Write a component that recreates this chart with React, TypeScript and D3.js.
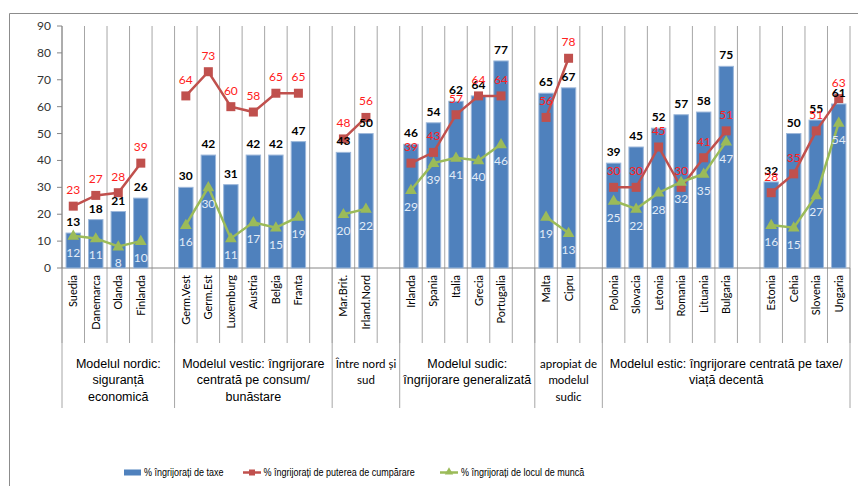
import * as d3 from 'd3';

// countries in chart order
const countries = [
  'Suedia', 'Danemarca', 'Olanda', 'Finlanda',
  'Germ.Vest', 'Germ.Est', 'Luxemburg', 'Austria', 'Belgia', 'Franta',
  'Mar.Brit.', 'Irland.Nord',
  'Irlanda', 'Spania', 'Italia', 'Grecia', 'Portugalia',
  'Malta', 'Cipru',
  'Polonia', 'Slovacia', 'Letonia', 'Romania', 'Lituania', 'Bulgaria',
  'Estonia', 'Cehia', 'Slovenia', 'Ungaria',
];

// % îngrijorați de taxe
const taxe = [13, 18, 21, 26, 30, 42, 31, 42, 42, 47, 43, 50, 46, 54, 62, 64, 77, 65, 67, 39, 45, 52, 57, 58, 75, 32, 50, 55, 61];
// % îngrijorați de puterea de cumpărare
const putere = [23, 27, 28, 39, 64, 73, 60, 58, 65, 65, 48, 56, 39, 43, 57, 64, 64, 56, 78, 30, 30, 45, 30, 41, 51, 28, 35, 51, 63];
// % îngrijorați de locul de muncă
const locMunca = [12, 11, 8, 10, 16, 30, 11, 17, 15, 19, 20, 22, 29, 39, 41, 40, 46, 19, 13, 25, 22, 28, 32, 35, 47, 16, 15, 27, 54];

// an empty slot follows each of these
const gapAfter = ['Finlanda', 'Franta', 'Irland.Nord', 'Portugalia', 'Cipru', 'Bulgaria'];

const groupStarts = ['Suedia', 'Germ.Vest', 'Mar.Brit.', 'Irlanda', 'Malta', 'Polonia'];
const groupLabels = [
  ['Modelul nordic:', 'siguranță', 'economică'],
  ['Modelul vestic: îngrijorare', 'centrată pe consum/', 'bunăstare'],
  ['Între nord și', 'sud'],
  ['Modelul sudic:', 'îngrijorare generalizată'],
  ['apropiat de', 'modelul', 'sudic'],
  ['Modelul estic: îngrijorare centrată pe taxe/', 'viață decentă'],
];
const narrowGroups = [2, 4];

const yTicks = [0, 10, 20, 30, 40, 50, 60, 70, 80, 90];

const legendLabels = [
  '% îngrijorați de taxe',
  '% îngrijorați de puterea de cumpărare',
  '% îngrijorați de locul de muncă',
];

const BLUE = '#4F81BD';
const RED = '#C0504D';
const GREEN = '#9BBB59';
const GRID = '#A6A6A6';
const calibri = "Lato, 'Open Sans', sans-serif";
const arial = "'Liberation Sans', Arial, sans-serif";

export default function App() {
  const width = 858;
  const height = 486;

  // build slot list (country index or null for empty slot)
  const slots: (number | null)[] = [];
  countries.forEach((c, i) => {
    slots.push(i);
    if (gapAfter.includes(c)) slots.push(null);
  });
  const slotKeys = slots.map((_, k) => String(k));

  const x = d3.scaleBand<string>().domain(slotKeys).range([62, 850]).padding(0);
  const y = d3.scaleLinear().domain([0, 90]).range([268, 26]);
  const bw = x.bandwidth();
  const barW = bw * 0.64;
  const cx = (k: number) => (x(String(k)) ?? 0) + bw / 2;

  const slotOf = (i: number) => slots.indexOf(i);

  const seriesBySlot = (vals: number[]) => slots.map((s) => (s === null ? null : vals[s]));
  const line = d3
    .line<number | null>()
    .defined((d) => d !== null)
    .x((_, k) => cx(k))
    .y((d) => y(d as number));

  const boundaries = d3.range(slots.length + 1).map((k) => 62 + k * bw);

  const groupStartSlots = groupStarts.map((c) => slotOf(countries.indexOf(c)));
  const groupEdges = [...groupStartSlots, slots.length].map((k) => 62 + k * bw);

  const tri = d3.symbol().type(d3.symbolTriangle).size(60)();
  const triSmall = d3.symbol().type(d3.symbolTriangle).size(30)();

  return (
    <svg
      width={width}
      height={height}
      style={{ position: 'absolute', left: 0, top: 0, background: '#fff' }}
    >
      {/* chart frame */}
      <path d={`M9.5,${height} V13.5 H${width}`} fill="none" stroke="#8C8C8C" strokeWidth={1} />

      {/* vertical gridlines */}
      {boundaries.map((bx, k) => (
        <line key={'g' + k} x1={bx} x2={bx} y1={26} y2={343} stroke={GRID} strokeWidth={1} />
      ))}
      {/* group separators */}
      {groupEdges.map((gx, k) => (
        <line key={'s' + k} x1={gx} x2={gx} y1={268} y2={408} stroke={GRID} strokeWidth={1} />
      ))}

      {/* y axis */}
      <line x1={62} x2={62} y1={26} y2={268} stroke="#868686" />
      {yTicks.map((t) => (
        <g key={t}>
          <line x1={57} x2={62} y1={y(t)} y2={y(t)} stroke="#868686" />
          <text
            x={51}
            y={y(t) + 4}
            textAnchor="end"
            fontFamily={calibri}
            fontSize={12}
            fill="#333"
          >
            {t}
          </text>
        </g>
      ))}
      <line x1={62} x2={850} y1={268} y2={268} stroke="#868686" />

      {/* bars */}
      {slots.map((s, k) =>
        s === null ? null : (
          <rect
            key={'b' + k}
            x={cx(k) - barW / 2}
            y={y(taxe[s])}
            width={barW}
            height={y(0) - y(taxe[s])}
            fill={BLUE}
            stroke="#9DB8DA"
            strokeWidth={1}
          />
        )
      )}

      {/* lines */}
      <path d={line(seriesBySlot(putere)) ?? ''} fill="none" stroke={RED} strokeWidth={2.5} />
      <path d={line(seriesBySlot(locMunca)) ?? ''} fill="none" stroke={GREEN} strokeWidth={2.5} />
      {slots.map((s, k) =>
        s === null ? null : (
          <g key={'m' + k}>
            <rect x={cx(k) - 4.5} y={y(putere[s]) - 4.5} width={9} height={9} fill={RED} />
            <path d={tri ?? ''} transform={`translate(${cx(k)},${y(locMunca[s]) + 0.5})`} fill={GREEN} />
          </g>
        )
      )}

      {/* data labels */}
      {slots.map((s, k) =>
        s === null ? null : (
          <g key={'l' + k} fontFamily={calibri} fontSize={12} textAnchor="middle">
            <text x={cx(k)} y={y(taxe[s]) - 7} fontWeight="bold" fill="#000">
              {taxe[s]}
            </text>
            <text x={cx(k)} y={y(putere[s]) - 12} fill="#FF2020">
              {putere[s]}
            </text>
            <text x={cx(k)} y={y(locMunca[s]) + 21} fill="#E3ECF7">
              {locMunca[s]}
            </text>
          </g>
        )
      )}

      {/* category labels */}
      {slots.map((s, k) =>
        s === null ? null : (
          <text
            key={'c' + k}
            transform={`translate(${cx(k) + 4},275) rotate(-90)`}
            textAnchor="end"
            fontFamily={calibri}
            fontSize={11}
            fill="#000"
          >
            {countries[s]}
          </text>
        )
      )}

      {/* group labels */}
      {groupLabels.map((lines, g) => {
        const gx = (groupEdges[g] + groupEdges[g + 1]) / 2;
        const isNarrow = narrowGroups.includes(g);
        return (
          <text
            key={'gl' + g}
            textAnchor="middle"
            fontFamily={isNarrow ? calibri : arial}
            fontSize={isNarrow ? 11.5 : 12.5}
            fill="#000"
          >
            {lines.map((ln, j) => (
              <tspan key={j} x={gx} y={367.5 + j * 16.5}>
                {ln}
              </tspan>
            ))}
          </text>
        );
      })}

      {/* legend (condensed text) */}
      <g fontFamily={arial} fontSize={11} fill="#000">
        <rect x={124} y={469.5} width={17} height={6} fill={BLUE} />
        <text transform="translate(144,476) scale(0.82,1)">{legendLabels[0]}</text>
        <line x1={243} x2={261} y1={472.5} y2={472.5} stroke={RED} strokeWidth={2.5} />
        <rect x={249} y={469.5} width={6} height={6} fill={RED} />
        <text transform="translate(263.5,476) scale(0.82,1)">{legendLabels[1]}</text>
        <line x1={440} x2={458} y1={472.5} y2={472.5} stroke={GREEN} strokeWidth={2.5} />
        <path d={triSmall ?? ''} transform="translate(449,472)" fill={GREEN} />
        <text transform="translate(461,476) scale(0.82,1)">{legendLabels[2]}</text>
      </g>
    </svg>
  );
}
